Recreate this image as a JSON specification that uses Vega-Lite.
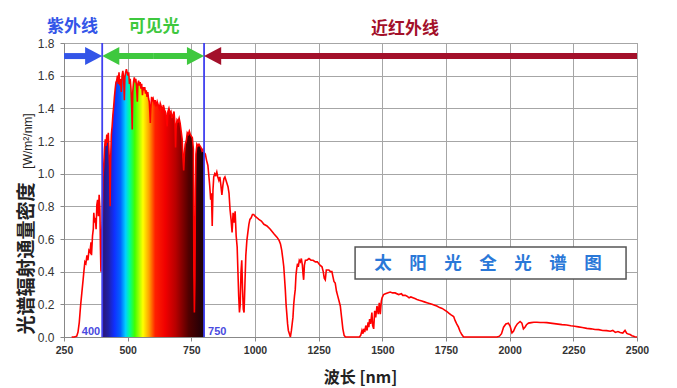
{
  "$schema": "https://vega.github.io/schema/vega-lite/v6.json",
  "width": 573,
  "height": 294,
  "autosize": {"type": "none"},
  "padding": {"left": 64, "top": 43, "right": 40, "bottom": 51},
  "background": "white",
  "config": {"view": {"stroke": "#999999"}, "font": "Liberation Sans"},
  "datasets": {
    "spectrum": [
      {"wl":280,"v":0},{"wl":290,"v":0},{"wl":300,"v":0.005},{"wl":305,"v":0.03},{"wl":310,"v":0.09},{"wl":315,"v":0.19},{"wl":320,"v":0.27},{"wl":325,"v":0.35},{"wl":328,"v":0.40},{"wl":332,"v":0.46},{"wl":336,"v":0.45},{"wl":340,"v":0.50},{"wl":344,"v":0.47},{"wl":348,"v":0.53},{"wl":352,"v":0.52},{"wl":356,"v":0.58},{"wl":358,"v":0.50},{"wl":362,"v":0.62},{"wl":365,"v":0.66},{"wl":367,"v":0.76},{"wl":370,"v":0.70},{"wl":373,"v":0.73},{"wl":376,"v":0.66},{"wl":379,"v":0.81},{"wl":382,"v":0.84},{"wl":385,"v":0.74},{"wl":388,"v":0.87},{"wl":391,"v":0.78},{"wl":393,"v":0.55},{"wl":395,"v":0.40},{"wl":397,"v":0.62},{"wl":400,"v":0.70},
      {"wl":403,"v":0.98},{"wl":406,"v":1.05},{"wl":409,"v":1.15},{"wl":412,"v":1.21},{"wl":415,"v":1.17},{"wl":418,"v":1.24},{"wl":421,"v":1.19},{"wl":424,"v":1.25},{"wl":427,"v":1.12},{"wl":429,"v":1.05},{"wl":431,"v":0.80},{"wl":433,"v":1.08},{"wl":436,"v":1.24},{"wl":439,"v":1.29},{"wl":442,"v":1.36},{"wl":445,"v":1.41},{"wl":448,"v":1.47},{"wl":451,"v":1.52},{"wl":454,"v":1.56},{"wl":457,"v":1.57},{"wl":460,"v":1.60},{"wl":463,"v":1.55},{"wl":466,"v":1.62},{"wl":469,"v":1.54},{"wl":472,"v":1.58},{"wl":475,"v":1.50},{"wl":478,"v":1.60},{"wl":481,"v":1.63},{"wl":484,"v":1.59},{"wl":487,"v":1.45},{"wl":489,"v":1.59},{"wl":492,"v":1.62},{"wl":495,"v":1.64},{"wl":498,"v":1.62},{"wl":501,"v":1.60},{"wl":504,"v":1.62},{"wl":507,"v":1.55},{"wl":510,"v":1.58},{"wl":513,"v":1.52},{"wl":516,"v":1.40},{"wl":518,"v":1.27},{"wl":520,"v":1.50},{"wl":523,"v":1.56},{"wl":526,"v":1.59},{"wl":529,"v":1.56},{"wl":532,"v":1.58},{"wl":535,"v":1.53},{"wl":538,"v":1.44},{"wl":540,"v":1.55},{"wl":543,"v":1.57},{"wl":546,"v":1.54},{"wl":549,"v":1.56},{"wl":552,"v":1.52},{"wl":555,"v":1.55},{"wl":558,"v":1.48},{"wl":561,"v":1.53},{"wl":564,"v":1.51},{"wl":567,"v":1.53},{"wl":570,"v":1.49},{"wl":573,"v":1.51},{"wl":576,"v":1.47},{"wl":579,"v":1.50},{"wl":582,"v":1.46},{"wl":585,"v":1.44},{"wl":587,"v":1.38},{"wl":589,"v":1.31},{"wl":591,"v":1.40},{"wl":594,"v":1.47},{"wl":597,"v":1.45},{"wl":600,"v":1.46},{"wl":604,"v":1.43},{"wl":608,"v":1.45},{"wl":612,"v":1.41},{"wl":616,"v":1.44},{"wl":620,"v":1.42},{"wl":624,"v":1.40},{"wl":628,"v":1.43},{"wl":632,"v":1.41},{"wl":636,"v":1.37},{"wl":640,"v":1.42},{"wl":645,"v":1.39},{"wl":650,"v":1.37},{"wl":655,"v":1.29},{"wl":658,"v":1.38},{"wl":662,"v":1.40},{"wl":666,"v":1.37},{"wl":670,"v":1.38},{"wl":674,"v":1.34},{"wl":678,"v":1.36},{"wl":682,"v":1.38},{"wl":686,"v":1.30},{"wl":688,"v":1.16},{"wl":690,"v":1.28},{"wl":694,"v":1.33},{"wl":698,"v":1.32},{"wl":702,"v":1.34},{"wl":706,"v":1.31},{"wl":710,"v":1.26},{"wl":714,"v":1.21},{"wl":717,"v":1.10},{"wl":720,"v":1.02},{"wl":723,"v":1.13},{"wl":726,"v":1.18},{"wl":730,"v":1.20},{"wl":734,"v":1.25},{"wl":738,"v":1.24},{"wl":742,"v":1.26},{"wl":746,"v":1.24},{"wl":750,"v":1.23},{"wl":754,"v":1.22},{"wl":758,"v":1.15},{"wl":760,"v":0.40},{"wl":762,"v":0.15},{"wl":764,"v":0.35},{"wl":766,"v":0.90},{"wl":768,"v":1.12},{"wl":772,"v":1.18},{"wl":776,"v":1.17},{"wl":780,"v":1.18},{"wl":784,"v":1.17},{"wl":788,"v":1.16},{"wl":792,"v":1.14},{"wl":796,"v":1.15},{"wl":800,"v":1.13},
      {"wl":805,"v":1.12},{"wl":810,"v":1.08},{"wl":815,"v":1.05},{"wl":818,"v":1.00},{"wl":822,"v":0.93},{"wl":826,"v":0.84},{"wl":829,"v":0.88},{"wl":832,"v":0.68},{"wl":835,"v":0.90},{"wl":838,"v":0.98},{"wl":842,"v":1.00},{"wl":846,"v":0.99},{"wl":850,"v":1.01},{"wl":854,"v":0.98},{"wl":858,"v":0.96},{"wl":862,"v":0.98},{"wl":866,"v":0.93},{"wl":870,"v":0.87},{"wl":874,"v":0.93},{"wl":878,"v":0.97},{"wl":882,"v":0.98},{"wl":886,"v":0.96},{"wl":890,"v":0.94},{"wl":894,"v":0.92},{"wl":898,"v":0.88},{"wl":902,"v":0.78},{"wl":906,"v":0.72},{"wl":910,"v":0.64},{"wl":914,"v":0.76},{"wl":918,"v":0.70},{"wl":922,"v":0.77},{"wl":926,"v":0.62},{"wl":930,"v":0.55},{"wl":933,"v":0.40},{"wl":936,"v":0.25},{"wl":939,"v":0.15},{"wl":942,"v":0.20},{"wl":945,"v":0.40},{"wl":948,"v":0.47},{"wl":951,"v":0.30},{"wl":954,"v":0.17},{"wl":957,"v":0.15},{"wl":960,"v":0.30},{"wl":964,"v":0.50},{"wl":968,"v":0.59},{"wl":972,"v":0.64},{"wl":976,"v":0.69},{"wl":980,"v":0.72},{"wl":985,"v":0.73},{"wl":990,"v":0.75},{"wl":995,"v":0.75},{"wl":1000,"v":0.74},{"wl":1008,"v":0.73},{"wl":1015,"v":0.72},{"wl":1025,"v":0.71},{"wl":1035,"v":0.69},{"wl":1047,"v":0.68},{"wl":1060,"v":0.66},{"wl":1075,"v":0.63},{"wl":1087,"v":0.61},{"wl":1095,"v":0.59},{"wl":1100,"v":0.57},{"wl":1105,"v":0.53},{"wl":1110,"v":0.47},{"wl":1113,"v":0.43},{"wl":1116,"v":0.36},{"wl":1119,"v":0.29},{"wl":1122,"v":0.20},{"wl":1125,"v":0.14},{"wl":1128,"v":0.08},{"wl":1131,"v":0.04},{"wl":1135,"v":0.02},{"wl":1139,"v":0},{"wl":1143,"v":0.04},{"wl":1146,"v":0.08},{"wl":1149,"v":0.12},{"wl":1152,"v":0.20},{"wl":1155,"v":0.25},{"wl":1158,"v":0.29},{"wl":1161,"v":0.38},{"wl":1164,"v":0.42},{"wl":1167,"v":0.45},{"wl":1170,"v":0.43},{"wl":1174,"v":0.47},{"wl":1178,"v":0.46},{"wl":1182,"v":0.48},{"wl":1186,"v":0.44},{"wl":1189,"v":0.38},{"wl":1191,"v":0.35},{"wl":1194,"v":0.44},{"wl":1198,"v":0.47},{"wl":1204,"v":0.47},{"wl":1212,"v":0.48},{"wl":1220,"v":0.47},{"wl":1228,"v":0.47},{"wl":1237,"v":0.46},{"wl":1245,"v":0.46},{"wl":1255,"v":0.44},{"wl":1263,"v":0.43},{"wl":1268,"v":0.40},{"wl":1272,"v":0.36},{"wl":1276,"v":0.35},{"wl":1280,"v":0.41},{"wl":1284,"v":0.41},{"wl":1290,"v":0.41},{"wl":1296,"v":0.40},{"wl":1302,"v":0.40},{"wl":1306,"v":0.37},{"wl":1310,"v":0.34},{"wl":1315,"v":0.33},{"wl":1320,"v":0.28},{"wl":1325,"v":0.25},{"wl":1330,"v":0.22},{"wl":1335,"v":0.19},{"wl":1340,"v":0.12},{"wl":1345,"v":0.05},{"wl":1350,"v":0.01},{"wl":1355,"v":0},{"wl":1410,"v":0},{"wl":1415,"v":0.01},{"wl":1420,"v":0.04},{"wl":1424,"v":0.02},{"wl":1427,"v":0.05},{"wl":1431,"v":0.03},{"wl":1435,"v":0.07},{"wl":1440,"v":0.04},{"wl":1444,"v":0.09},{"wl":1447,"v":0.06},{"wl":1450,"v":0.11},{"wl":1454,"v":0.08},{"wl":1459,"v":0.15},{"wl":1462,"v":0.07},{"wl":1466,"v":0.05},{"wl":1470,"v":0.16},{"wl":1474,"v":0.12},{"wl":1479,"v":0.19},{"wl":1484,"v":0.14},{"wl":1488,"v":0.21},{"wl":1492,"v":0.14},{"wl":1496,"v":0.22},{"wl":1499,"v":0.24},{"wl":1505,"v":0.26},{"wl":1512,"v":0.265},{"wl":1520,"v":0.27},{"wl":1531,"v":0.275},{"wl":1540,"v":0.27},{"wl":1550,"v":0.27},{"wl":1564,"v":0.26},{"wl":1575,"v":0.265},{"wl":1580,"v":0.255},{"wl":1590,"v":0.255},{"wl":1597,"v":0.25},{"wl":1605,"v":0.24},{"wl":1612,"v":0.245},{"wl":1620,"v":0.24},{"wl":1628,"v":0.235},{"wl":1636,"v":0.23},{"wl":1645,"v":0.225},{"wl":1655,"v":0.22},{"wl":1665,"v":0.215},{"wl":1675,"v":0.21},{"wl":1685,"v":0.205},{"wl":1695,"v":0.20},{"wl":1705,"v":0.195},{"wl":1714,"v":0.19},{"wl":1725,"v":0.18},{"wl":1735,"v":0.175},{"wl":1745,"v":0.165},{"wl":1754,"v":0.155},{"wl":1762,"v":0.145},{"wl":1770,"v":0.135},{"wl":1780,"v":0.125},{"wl":1786,"v":0.10},{"wl":1792,"v":0.08},{"wl":1799,"v":0.06},{"wl":1805,"v":0.035},{"wl":1812,"v":0.015},{"wl":1819,"v":0},{"wl":1950,"v":0},{"wl":1960,"v":0.005},{"wl":1968,"v":0.02},{"wl":1976,"v":0.06},{"wl":1985,"v":0.08},{"wl":1995,"v":0.085},{"wl":2002,"v":0.065},{"wl":2009,"v":0.025},{"wl":2015,"v":0.035},{"wl":2022,"v":0.06},{"wl":2030,"v":0.08},{"wl":2041,"v":0.095},{"wl":2048,"v":0.085},{"wl":2054,"v":0.05},{"wl":2060,"v":0.06},{"wl":2066,"v":0.075},{"wl":2074,"v":0.085},{"wl":2085,"v":0.088},{"wl":2095,"v":0.09},{"wl":2107,"v":0.09},{"wl":2120,"v":0.089},{"wl":2133,"v":0.089},{"wl":2146,"v":0.088},{"wl":2160,"v":0.085},{"wl":2175,"v":0.082},{"wl":2190,"v":0.079},{"wl":2205,"v":0.076},{"wl":2224,"v":0.073},{"wl":2240,"v":0.069},{"wl":2255,"v":0.066},{"wl":2270,"v":0.062},{"wl":2285,"v":0.058},{"wl":2303,"v":0.053},{"wl":2320,"v":0.05},{"wl":2335,"v":0.046},{"wl":2350,"v":0.045},{"wl":2365,"v":0.04},{"wl":2381,"v":0.039},{"wl":2395,"v":0.035},{"wl":2405,"v":0.04},{"wl":2415,"v":0.028},{"wl":2425,"v":0.033},{"wl":2434,"v":0.027},{"wl":2444,"v":0.024},{"wl":2453,"v":0.04},{"wl":2460,"v":0.022},{"wl":2466,"v":0.018},{"wl":2473,"v":0.015},{"wl":2480,"v":0.008},{"wl":2487,"v":0.004},{"wl":2492,"v":0.002},{"wl":2500,"v":0}
    ],
    "edges": [{"wl": 400, "v": 0, "v2": 1.8, "label": "400"}, {"wl": 800, "v": 0, "v2": 1.8, "label": "750"}],
    "shafts": [
      {"band": "uv", "wl": 250, "wl2": 400, "v": 1.72},
      {"band": "vis", "wl": 600, "wl2": 400, "v": 1.72},
      {"band": "vis", "wl": 600, "wl2": 800, "v": 1.72},
      {"band": "nir", "wl": 2500, "wl2": 800, "v": 1.72}
    ],
    "heads": [
      {"band": "uv", "wl": 400, "v": 1.72, "dir": "right"},
      {"band": "vis", "wl": 400, "v": 1.72, "dir": "left"},
      {"band": "vis", "wl": 800, "v": 1.72, "dir": "right"},
      {"band": "nir", "wl": 800, "v": 1.72, "dir": "left"}
    ],
    "bandLabels": [
      {"band": "uv", "label": "紫外线", "wl": 283, "v": 1.895},
      {"band": "vis", "label": "可见光", "wl": 603, "v": 1.895},
      {"band": "nir", "label": "近红外线", "wl": 1589, "v": 1.885}
    ]
  },
  "encoding": {
    "x": {
      "field": "wl", "type": "quantitative",
      "scale": {"domain": [250, 2500], "nice": false, "zero": false},
      "axis": {
        "values": [250, 500, 750, 1000, 1250, 1500, 1750, 2000, 2250, 2500], "format": "d",
        "labelFlush": false, "labelOverlap": false,
        "labelFont": "Liberation Sans", "labelFontSize": 10.5, "labelFontWeight": "bold", "labelColor": "#333333", "labelPadding": 4,
        "tickSize": 4, "tickColor": "#888888", "domainColor": "#888888",
        "grid": true, "gridColor": "#a6a6a6", "gridWidth": 1,
        "title": "波长 [nm]", "titleFont": "Noto Sans CJK SC", "titleFontSize": 16, "titleFontWeight": "bold", "titleColor": "#222222",
        "titleX": 296, "titleY": 40, "titleBaseline": "middle"
      }
    },
    "y": {
      "field": "v", "type": "quantitative",
      "scale": {"domain": [0, 1.8], "nice": false, "zero": false},
      "axis": {
        "values": [0, 0.2, 0.4, 0.6, 0.8, 1.0, 1.2, 1.4, 1.6, 1.8], "format": ".1f",
        "labelFont": "Liberation Sans", "labelFontSize": 12, "labelColor": "#333333", "labelPadding": 6,
        "tickSize": 4, "tickColor": "#888888", "domainColor": "#888888",
        "grid": true, "gridColor": "#a6a6a6", "gridWidth": 1,
        "title": "光谱辐射通量密度", "titleFont": "Noto Sans CJK SC", "titleFontSize": 19, "titleFontWeight": "bold", "titleColor": "#222222",
        "titleAngle": 270, "titleX": -28, "titleY": 215, "titleBaseline": "bottom", "titleAlign": "center"
      }
    }
  },
  "layer": [
    {
      "data": {"name": "spectrum"},
      "transform": [{"filter": "datum.wl >= 400 && datum.wl <= 800"}],
      "mark": {
        "type": "area",
        "color": {
          "gradient": "linear", "x1": 0, "y1": 0, "x2": 1, "y2": 0,
          "stops": [
            {"offset": 0, "color": "#2a1470"},
            {"offset": 0.06, "color": "#2020a8"},
            {"offset": 0.12, "color": "#1030ff"},
            {"offset": 0.18, "color": "#0064ff"},
            {"offset": 0.23, "color": "#00d0ff"},
            {"offset": 0.27, "color": "#00ff90"},
            {"offset": 0.32, "color": "#40ff00"},
            {"offset": 0.40, "color": "#ffff00"},
            {"offset": 0.46, "color": "#ffa000"},
            {"offset": 0.52, "color": "#ff2000"},
            {"offset": 0.62, "color": "#f00000"},
            {"offset": 0.72, "color": "#b80000"},
            {"offset": 0.85, "color": "#500000"},
            {"offset": 1, "color": "#1a0008"}
          ]
        }
      }
    },
    {
      "data": {"name": "spectrum"},
      "mark": {"type": "line", "color": "#ff0000", "strokeWidth": 1.6}
    },
    {
      "data": {"name": "edges"},
      "mark": {"type": "rule", "color": "#4040f0", "strokeWidth": 1.8},
      "encoding": {"y2": {"field": "v2"}}
    },
    {
      "data": {"name": "edges"},
      "transform": [{"filter": "datum.wl < 600"}],
      "mark": {"type": "text", "align": "right", "baseline": "alphabetic", "dx": -2, "dy": -2, "font": "Liberation Sans", "fontSize": 11, "fontWeight": "bold", "color": "#4a4ae0"},
      "encoding": {"text": {"field": "label"}}
    },
    {
      "data": {"name": "edges"},
      "transform": [{"filter": "datum.wl > 600"}],
      "mark": {"type": "text", "align": "left", "baseline": "alphabetic", "dx": 4, "dy": -2, "font": "Liberation Sans", "fontSize": 11, "fontWeight": "bold", "color": "#4a4ae0"},
      "encoding": {"text": {"field": "label"}}
    },
    {
      "data": {"name": "shafts"},
      "transform": [{"filter": "datum.wl2 > datum.wl"}],
      "mark": {"type": "rule", "strokeWidth": 6, "x2Offset": -8},
      "encoding": {
        "x2": {"field": "wl2"},
        "color": {"field": "band", "type": "nominal", "scale": {"domain": ["uv", "vis", "nir"], "range": ["#3355e8", "#3ec83e", "#a3102a"]}, "legend": null}
      }
    },
    {
      "data": {"name": "shafts"},
      "transform": [{"filter": "datum.wl2 < datum.wl"}],
      "mark": {"type": "rule", "strokeWidth": 6, "x2Offset": 8},
      "encoding": {
        "x2": {"field": "wl2"},
        "color": {"field": "band", "type": "nominal", "scale": {"domain": ["uv", "vis", "nir"], "range": ["#3355e8", "#3ec83e", "#a3102a"]}, "legend": null}
      }
    },
    {
      "data": {"name": "heads"},
      "mark": {"type": "point", "filled": true, "size": 324, "opacity": 1},
      "encoding": {
        "shape": {"field": "dir", "type": "nominal", "scale": {"domain": ["right", "left"], "range": ["M0,0L-1.9,-1L-1.9,1Z", "M0,0L1.9,-1L1.9,1Z"]}, "legend": null},
        "color": {"field": "band", "type": "nominal", "scale": {"domain": ["uv", "vis", "nir"], "range": ["#3355e8", "#3ec83e", "#a3102a"]}, "legend": null}
      }
    },
    {
      "data": {"name": "bandLabels"},
      "mark": {"type": "text", "align": "center", "baseline": "middle", "font": "Noto Sans CJK SC", "fontSize": 17, "fontWeight": "bold"},
      "encoding": {
        "text": {"field": "label"},
        "color": {"field": "band", "type": "nominal", "scale": {"domain": ["uv", "vis", "nir"], "range": ["#3a4ad8", "#3ec03e", "#a82040"]}, "legend": null}
      }
    },
    {
      "data": {"values": [{"wl": 1393, "wl2": 2457, "v": 0.551, "v2": 0.355}]},
      "mark": {"type": "rect", "fill": "white", "stroke": "#555555", "strokeWidth": 1.5},
      "encoding": {"x2": {"field": "wl2"}, "y2": {"field": "v2"}}
    },
    {
      "data": {"values": [{"wl": 1915, "v": 0.447, "label": "太　阳　光　全　光　谱　图"}]},
      "mark": {"type": "text", "align": "center", "baseline": "middle", "font": "Noto Sans CJK SC", "fontSize": 17.5, "fontWeight": "bold", "color": "#2a78d8"},
      "encoding": {"text": {"field": "label"}}
    },
    {
      "data": {"values": [{"wl": 136, "v": 1.2, "label": "[W/m²/nm]"}]},
      "mark": {"type": "text", "align": "center", "baseline": "bottom", "angle": 270, "font": "Liberation Sans", "fontSize": 12, "color": "#222222"},
      "encoding": {"text": {"field": "label"}}
    }
  ]
}
